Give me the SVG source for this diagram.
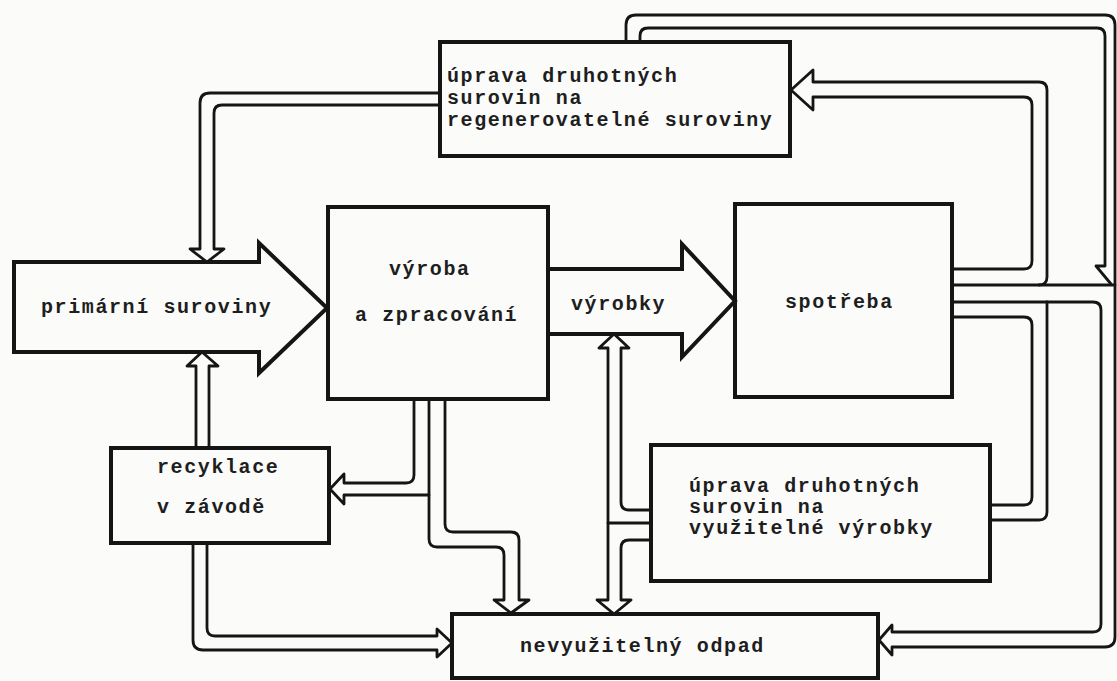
<svg xmlns="http://www.w3.org/2000/svg" width="1117" height="681" viewBox="0 0 1117 681">
<style>
.bg{fill:#fbfbfa}
.box{fill:none;stroke:#151515;stroke-width:4;stroke-linejoin:miter}
.pl{fill:none;stroke:#151515;stroke-width:2.8;stroke-linejoin:round;stroke-linecap:round}
.big{fill:none;stroke:#151515;stroke-width:4;stroke-linejoin:miter}
.t{font-family:"Liberation Mono","DejaVu Sans Mono",monospace;font-size:20px;font-weight:bold;letter-spacing:1.6px;fill:#1e1e1e}
</style>
<rect class="bg" x="0" y="0" width="1117" height="681"/>
<g id="connectors">
<path class="pl" d="M440,93 H210 Q200,93 200,103 V249 H190 L207,262 L224,249 H214 V113 Q214,105 222,105 H440"/>
<path class="pl" d="M626,42 V25 Q626,15 636,15 H1105 Q1115,15 1115,25 V637 Q1115,647 1105,647 H892 V655 L879,640 L892,625 V632 H1093 Q1101,632 1101,624 V310 Q1101,302 1093,302 H952"/>
<path class="pl" d="M640,42 V36 Q640,28 648,28 H1097 Q1105,28 1105,36 V266 H1096 L1111,284"/>
<path class="pl" d="M952,269 H1024 Q1032,269 1032,261 V105 Q1032,97 1024,97 H813 V110 L791,90 L813,70 V82 H1039 Q1047,82 1047,90 V277 Q1047,285 1039,285"/>
<path class="pl" d="M952,285 H1115"/>
<path class="pl" d="M952,317 H1024 Q1032,317 1032,325 V497 Q1032,505 1024,505 H990"/>
<path class="pl" d="M1047,302 V512 Q1047,520 1039,520 H990"/>
<path class="pl" d="M414,399 V475 Q414,483 406,483 H344 V474 L330,489 L344,504 V495 H429"/>
<path class="pl" d="M429,399 V539 Q429,547 437,547 H496 Q504,547 504,555 V600 H494 L511,613 L529,600 H519 V540 Q519,532 511,532 H453 Q445,532 445,524 V399"/>
<path class="pl" d="M196,448 V366 H187 L202,352 L218,366 H209 V448"/>
<path class="pl" d="M193,543 V640 Q193,650 203,650 H437 V657 L452,643 L437,629 V636 H215 Q207,636 207,628 V543"/>
<path class="pl" d="M651,510 H629 Q621,510 621,502 V348 H629 L614,334 L599,348 H608 V600 H597 L614,614 L631,600 H621 V548 Q621,540 629,540 H651"/>
<path class="pl" d="M651,523 H608"/>
</g>
<g id="n_regen">
<rect class="box" x="440" y="42" width="350" height="114"/>
<text class="t" x="447" y="82">úprava druhotných</text>
<text class="t" x="447" y="104">surovin na</text>
<text class="t" x="447" y="126">regenerovatelné suroviny</text>
</g>
<g id="n_primarni">
<path class="big" d="M14,262 H259 V243 L327,308 L259,373 V352 H14 Z"/>
<text class="t" x="41" y="313">primární suroviny</text>
</g>
<g id="n_vyroba">
<rect class="box" x="328" y="207" width="220" height="192"/>
<text class="t" x="389" y="275">výroba</text>
<text class="t" x="355" y="321">a zpracování</text>
</g>
<g id="n_vyrobky">
<path class="big" d="M548,269 H682 V244 L735,301 L682,357 V334 H548"/>
<text class="t" x="571" y="310">výrobky</text>
</g>
<g id="n_spotreba">
<rect class="box" x="735" y="204" width="217" height="193"/>
<text class="t" x="785" y="308">spotřeba</text>
</g>
<g id="n_recyklace">
<rect class="box" x="111" y="448" width="218" height="95"/>
<text class="t" x="157" y="473">recyklace</text>
<text class="t" x="157" y="513">v závodě</text>
</g>
<g id="n_uprava_vyrobky">
<rect class="box" x="651" y="445" width="339" height="136"/>
<text class="t" x="689" y="492">úprava druhotných</text>
<text class="t" x="689" y="513">surovin na</text>
<text class="t" x="689" y="534">využitelné výrobky</text>
</g>
<g id="n_odpad">
<rect class="box" x="452" y="614" width="426" height="64"/>
<text class="t" x="520" y="652">nevyužitelný odpad</text>
</g>
</svg>
